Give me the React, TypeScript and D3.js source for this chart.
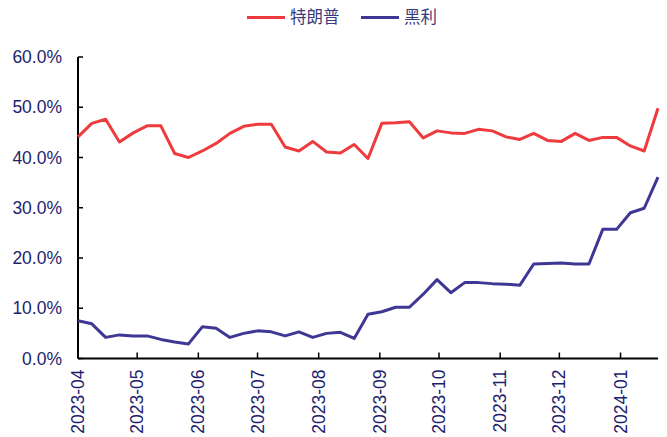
import React from "react";
import * as d3 from "d3";

// Weekly poll dates (2023-04 to 2024-01)
const dates: string[] = [
  "2023-04-01", "2023-04-08", "2023-04-15", "2023-04-22", "2023-04-29",
  "2023-05-06", "2023-05-13", "2023-05-20", "2023-05-27",
  "2023-06-03", "2023-06-10", "2023-06-17", "2023-06-24",
  "2023-07-01", "2023-07-08", "2023-07-15", "2023-07-22", "2023-07-29",
  "2023-08-05", "2023-08-12", "2023-08-19", "2023-08-26",
  "2023-09-02", "2023-09-09", "2023-09-16", "2023-09-23", "2023-09-30",
  "2023-10-07", "2023-10-14", "2023-10-21", "2023-10-28",
  "2023-11-04", "2023-11-11", "2023-11-18", "2023-11-25",
  "2023-12-02", "2023-12-09", "2023-12-16", "2023-12-23", "2023-12-30",
  "2024-01-06", "2024-01-13", "2024-01-20",
];

// Support share (%) – 特朗普
const trump: number[] = [
  44.1, 46.8, 47.6, 43.1, 44.9, 46.3, 46.3, 40.8, 40.0, 41.3, 42.8, 44.8,
  46.2, 46.6, 46.6, 42.1, 41.3, 43.2, 41.1, 40.9, 42.6, 39.8, 46.8, 46.9,
  47.1, 43.9, 45.3, 44.9, 44.8, 45.6, 45.3, 44.1, 43.6, 44.8, 43.4, 43.2,
  44.8, 43.4, 44.0, 44.0, 42.3, 41.3, 49.8,
];

// Support share (%) – 黑利
const haley: number[] = [
  7.5, 6.9, 4.2, 4.7, 4.5, 4.5, 3.8, 3.3, 2.9, 6.3, 6.0, 4.2,
  5.0, 5.5, 5.3, 4.5, 5.3, 4.2, 5.0, 5.2, 4.0, 8.8, 9.3, 10.2,
  10.2, 12.8, 15.7, 13.1, 15.1, 15.1, 14.9, 14.8, 14.6, 18.8, 18.9, 19.0,
  18.8, 18.8, 25.7, 25.7, 29.0, 29.9, 36.1,
];

const seriesNames = ["特朗普", "黑利"];
const seriesColors = ["#ee3b3d", "#3f3794"];
const yTicks = [0, 10, 20, 30, 40, 50, 60];
const xTickMonths = [
  "2023-04", "2023-05", "2023-06", "2023-07", "2023-08",
  "2023-09", "2023-10", "2023-11", "2023-12", "2024-01",
];

const W = 667;
const H = 437;
const left = 78;
const right = 658;
const top = 57;
const bottom = 358.5;

const parse = d3.timeParse("%Y-%m-%d");
const parseMonth = d3.timeParse("%Y-%m");
const textColor = "#1e1e6e";
const font = "'Liberation Sans', Arial, sans-serif";

export default function App() {
  const xs = dates.map((d) => parse(d) as Date);
  const x = d3
    .scaleTime()
    .domain([xs[0], xs[xs.length - 1]])
    .range([left, right]);
  const y = d3.scaleLinear().domain([0, 60]).range([bottom, top]);

  const line = d3
    .line<number>()
    .x((_, i) => x(xs[i]))
    .y((v) => y(v));

  const series = [trump, haley];

  return (
    <svg
      width={W}
      height={H}
      style={{ position: "absolute", left: 0, top: 0, background: "#fff" }}
    >
      {/* legend */}
      {seriesNames.map((name, i) => {
        const lx = i === 0 ? 247 : 361;
        return (
          <g key={name}>
            <line
              x1={lx}
              x2={lx + 38}
              y1={17.5}
              y2={17.5}
              stroke={seriesColors[i]}
              strokeWidth={3}
            />
            <text
              x={lx + 43}
              y={17.5}
              dy="0.35em"
              fontSize={16.5}
              fill="#3a3a7c"
              fontFamily="'Noto Sans CJK SC', sans-serif"
            >
              {name}
            </text>
          </g>
        );
      })}

      {/* y axis */}
      <line x1={left} x2={left} y1={top} y2={bottom} stroke="#000" strokeWidth={2} />
      {yTicks.map((t) => (
        <g key={t}>
          <line x1={left} x2={left + 5} y1={y(t)} y2={y(t)} stroke="#000" strokeWidth={1.5} />
          <text
            x={62}
            y={y(t)}
            dy="0.35em"
            textAnchor="end"
            fontSize={17.5}
            fill={textColor}
            fontFamily={font}
          >
            {t.toFixed(1)}%
          </text>
        </g>
      ))}

      {/* x axis */}
      <line x1={left} x2={right} y1={bottom} y2={bottom} stroke="#000" strokeWidth={2} />
      {xTickMonths.map((m) => {
        const px = x(parseMonth(m) as Date);
        return (
          <g key={m}>
            <line x1={px} x2={px} y1={bottom} y2={bottom - 6} stroke="#000" strokeWidth={1.5} />
            <text
              transform={`translate(${px},${bottom + 11}) rotate(-90)`}
              dy="0.35em"
              textAnchor="end"
              fontSize={17.5}
              fill={textColor}
              fontFamily={font}
            >
              {m}
            </text>
          </g>
        );
      })}

      {/* series */}
      {series.map((s, i) => (
        <path
          key={i}
          d={line(s) || ""}
          fill="none"
          stroke={seriesColors[i]}
          strokeWidth={3}
          strokeLinejoin="round"
        />
      ))}
    </svg>
  );
}
